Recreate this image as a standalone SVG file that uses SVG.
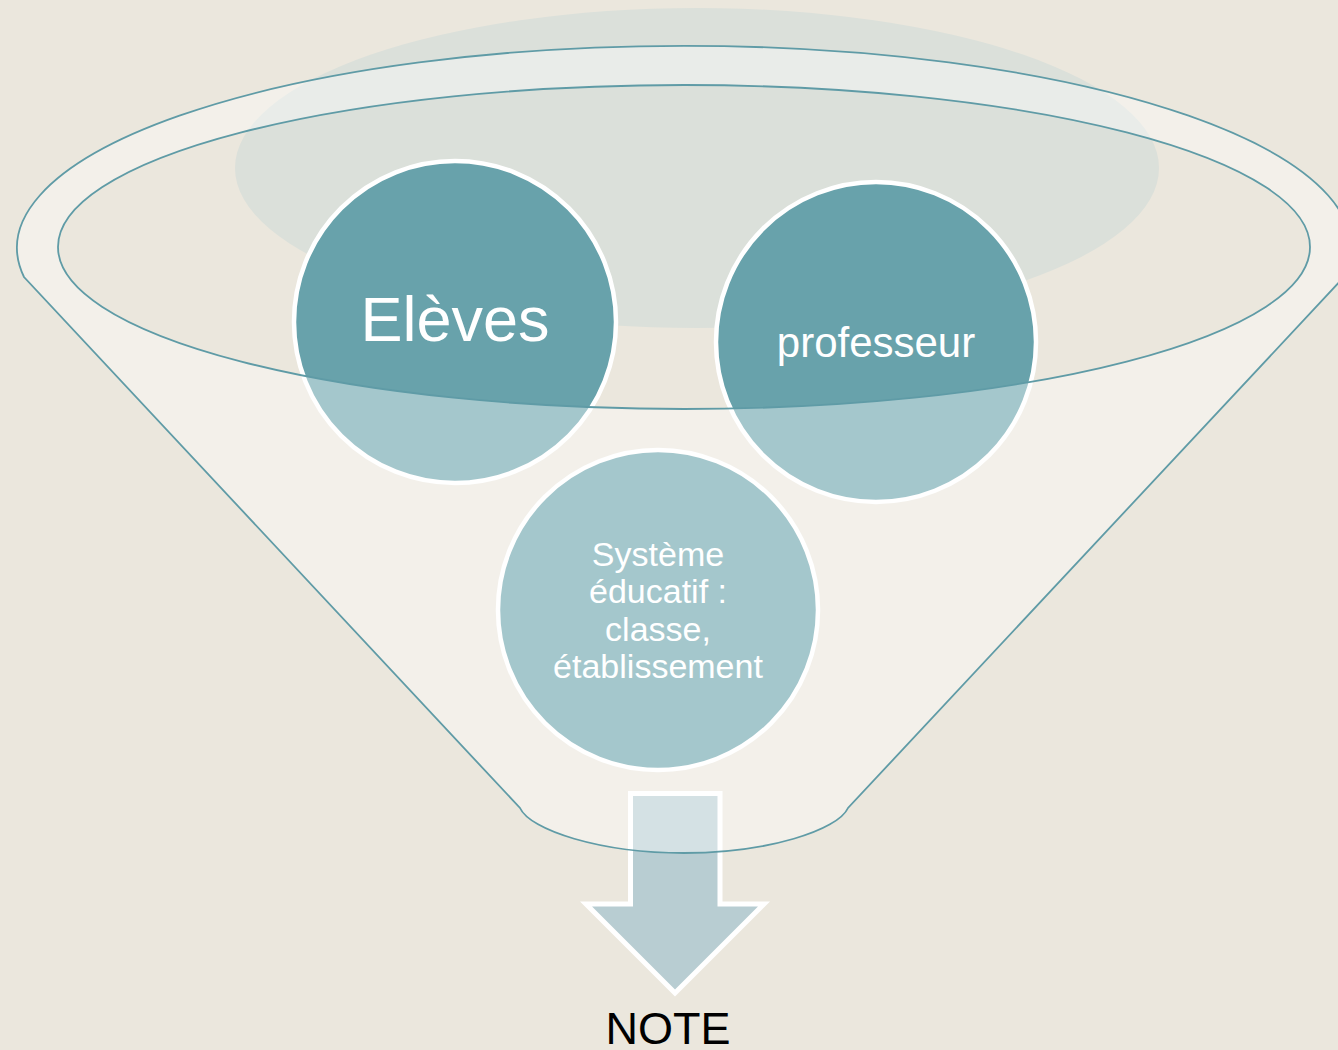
<svg xmlns="http://www.w3.org/2000/svg" width="1338" height="1050" viewBox="0 0 1338 1050">
<style>
.node{fill:#68a2ab;stroke:#ffffff;stroke-width:4.5}
.lbl{fill:#ffffff;font-family:"Liberation Sans",Arial,sans-serif;text-anchor:middle}
.rim{fill:none;stroke:#5f9ba6;stroke-width:1.8}
</style>
<rect x="0" y="0" width="1338" height="1050" fill="#ebe7dd"/>
<ellipse id="back-ellipse" cx="697" cy="168" rx="462" ry="160" fill="#dbe0da"/>
<g id="node-eleves">
<circle class="node" cx="455" cy="322" r="161"/>
<text class="lbl" x="455" y="341" font-size="63">Elèves</text>
</g>
<g id="node-professeur">
<circle class="node" cx="876" cy="342" r="160"/>
<text class="lbl" x="876" y="357" font-size="42">professeur</text>
</g>
<g id="node-systeme">
<circle class="node" cx="658" cy="610" r="160"/>
<text class="lbl" font-size="34"><tspan x="658" y="566">Système</tspan><tspan x="658" y="603">éducatif :</tspan><tspan x="658" y="641">classe,</tspan><tspan x="658" y="678">établissement</tspan></text>
</g>
<g id="connectors">
<path d="M630.5,793.5 H720 V904 H764 L675,993 L586,904 H630.5 Z" fill="#b8cdd2" stroke="#ffffff" stroke-width="5"/>
</g>
<g id="funnel">
<path fill="#ffffff" fill-opacity="0.4" fill-rule="evenodd" d="M24,277 A667,202 0 1,1 1344,277 L848,808 C838,830 768,853 684,853 C600,853 530,830 520,808 Z M58,247 A626,162 0 1,0 1310,247 A626,162 0 1,0 58,247 Z"/>
<path class="rim" d="M24,277 A667,202 0 1,1 1344,277 L848,808 C838,830 768,853 684,853 C600,853 530,830 520,808 Z"/>
<ellipse class="rim" cx="684" cy="247" rx="626" ry="162"/>
</g>
<g id="node-note">
<text x="668" y="1044" font-size="45" fill="#000000" font-family="Liberation Sans, Arial, sans-serif" text-anchor="middle">NOTE</text>
</g>
</svg>
